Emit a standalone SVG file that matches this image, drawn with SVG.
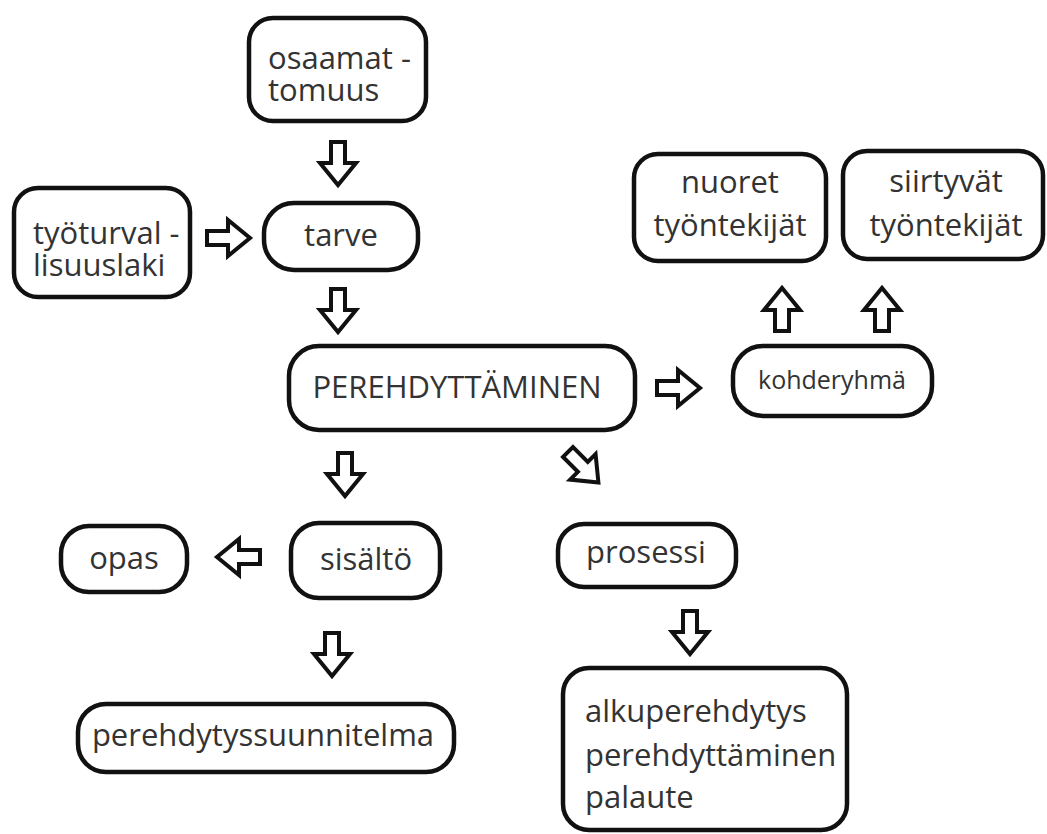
<svg xmlns="http://www.w3.org/2000/svg" width="1047" height="834" viewBox="0 0 1047 834">
<defs>
<style>
.box{fill:#fff;stroke:#111;stroke-width:4.5}
.t{font-family:"Open Sans","Noto Sans","Liberation Sans",sans-serif;font-size:31px;fill:#333}
.c{text-anchor:middle}
.arr{fill:#fff;stroke:#111;stroke-width:4;stroke-linejoin:miter}
</style>
<path id="ad" d="M-7,0 H7 V21 H18 L0,43 L-18,21 H-7 Z"/>
</defs>
<rect width="1047" height="834" fill="#fff"/>
<g id="connectors" class="arr">
<use href="#ad" transform="translate(338,142)"/>
<use href="#ad" transform="translate(207,238) rotate(-90)"/>
<use href="#ad" transform="translate(338,289)"/>
<use href="#ad" transform="translate(657,388) rotate(-90)"/>
<use href="#ad" transform="translate(782,331) rotate(180)"/>
<use href="#ad" transform="translate(882,331) rotate(180)"/>
<use href="#ad" transform="translate(345,453)"/>
<use href="#ad" transform="translate(568,452) rotate(-45)"/>
<use href="#ad" transform="translate(260,557) rotate(90)"/>
<use href="#ad" transform="translate(332,633)"/>
<use href="#ad" transform="translate(690,611)"/>
</g>
<g id="osaamattomuus"><rect class="box" x="249" y="18" width="177" height="103" rx="24"/><text class="t"><tspan x="268" y="69">osaamat -</tspan><tspan x="268" y="101">tomuus</tspan></text></g>
<g id="tyoturvallisuuslaki"><rect class="box" x="14" y="188" width="176" height="109" rx="24"/><text class="t"><tspan x="33" y="244">työturval -</tspan><tspan x="33" y="276">lisuuslaki</tspan></text></g>
<g id="tarve"><rect class="box" x="264" y="203" width="154" height="67" rx="30"/><text class="t c" x="341" y="246">tarve</text></g>
<g id="perehdyttaminen"><rect class="box" x="289" y="346" width="346" height="84" rx="30"/><text class="t c" x="457" y="398">PEREHDYTTÄMINEN</text></g>
<g id="kohderyhma"><rect class="box" x="733" y="346" width="199" height="70" rx="30"/><text class="t c" x="832" y="389" style="font-size:25px">kohderyhmä</text></g>
<g id="nuoret"><rect class="box" x="634" y="154" width="192" height="107" rx="24"/><text class="t c"><tspan x="730" y="193">nuoret</tspan><tspan x="730" y="236">työntekijät</tspan></text></g>
<g id="siirtyvat"><rect class="box" x="843" y="151" width="200" height="108" rx="24"/><text class="t c"><tspan x="946" y="192">siirtyvät</tspan><tspan x="946" y="236">työntekijät</tspan></text></g>
<g id="opas"><rect class="box" x="61" y="526" width="126" height="66" rx="28"/><text class="t c" x="124" y="569">opas</text></g>
<g id="sisalto"><rect class="box" x="291" y="523" width="149" height="75" rx="28"/><text class="t c" x="366" y="570">sisältö</text></g>
<g id="prosessi"><rect class="box" x="558" y="524" width="178" height="63" rx="26"/><text class="t c" x="646" y="563">prosessi</text></g>
<g id="perehdytyssuunnitelma"><rect class="box" x="78" y="704" width="376" height="68" rx="28"/><text class="t c" x="263" y="746">perehdytyssuunnitelma</text></g>
<g id="alkuperehdytys"><rect class="box" x="563" y="668" width="284" height="162" rx="26"/><text class="t"><tspan x="585" y="722">alkuperehdytys</tspan><tspan x="585" y="766">perehdyttäminen</tspan><tspan x="585" y="808">palaute</tspan></text></g>
</svg>
